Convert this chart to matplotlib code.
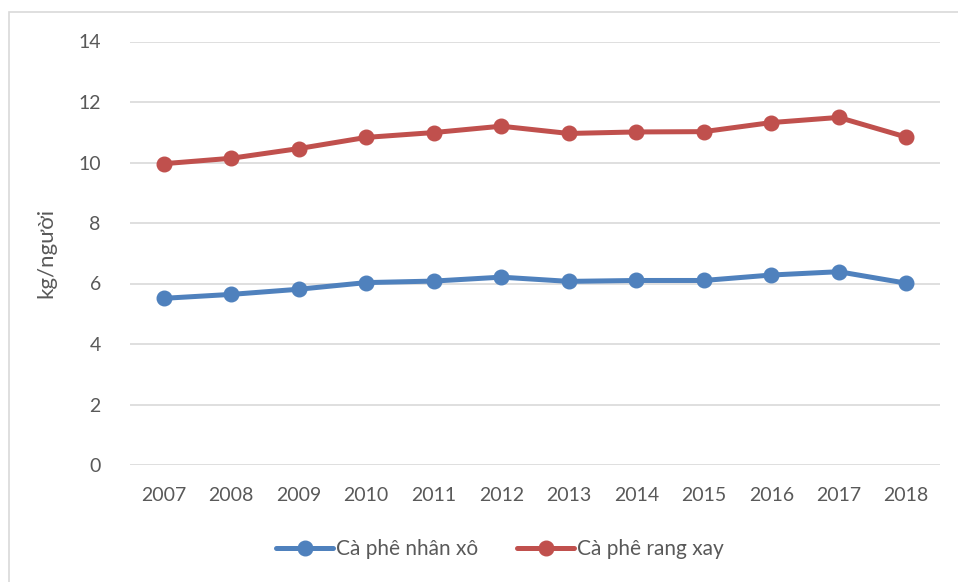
import matplotlib.pyplot as plt
from matplotlib.patches import Rectangle

years = ['2007', '2008', '2009', '2010', '2011', '2012',
         '2013', '2014', '2015', '2016', '2017', '2018']
nhan_xo = [5.51, 5.64, 5.81, 6.03, 6.08, 6.21, 6.07, 6.10, 6.10, 6.28, 6.39, 6.01]
rang_xay = [9.96, 10.14, 10.46, 10.83, 10.99, 11.20, 10.96, 11.01, 11.02, 11.32, 11.49, 10.84]
yticks = [0, 2, 4, 6, 8, 10, 12, 14]

plt.rcParams['font.family'] = ['Lato', 'DejaVu Sans']
text_color = '#595959'

fig = plt.figure(figsize=(9.58, 5.82), dpi=100)
ax = fig.add_axes([130 / 958, 1 - 465 / 582, 810 / 958, (465 - 41.5) / 582])

# partial border of the chart area (left and top edges only visible)
fig.patches.append(Rectangle((9 / 958, -0.1), 1.2, 1 - 12 / 582 + 0.1,
                             transform=fig.transFigure, fill=False,
                             edgecolor='#d9d9d9', linewidth=1.2))

x = range(len(years))
ax.plot(x, nhan_xo, color='#4F81BD', linewidth=3.6, marker='o', markersize=10.5,
        label='Cà phê nhân xô', solid_capstyle='round')
ax.plot(x, rang_xay, color='#C0504D', linewidth=3.6, marker='o', markersize=10.5,
        label='Cà phê rang xay', solid_capstyle='round')

ax.set_xlim(-0.5, len(years) - 0.5)
ax.set_ylim(0, 14)
ax.set_yticks(yticks)
ax.set_xticks(list(x))
ax.set_xticklabels(years)
ax.grid(axis='y', color='#d9d9d9', linewidth=1.2)
ax.set_axisbelow(True)
for s in ax.spines.values():
    s.set_visible(False)
ax.tick_params(length=0, labelsize=14, labelcolor=text_color)
ax.tick_params(axis='y', pad=21)
ax.tick_params(axis='x', pad=16)
ax.set_ylabel('kg/người', fontsize=16, color=text_color, labelpad=16)

fig.legend(*ax.get_legend_handles_labels(), loc='center',
           bbox_to_anchor=(500 / 958, 1 - 549 / 582), ncol=2, frameon=False,
           fontsize=15, labelcolor=text_color, handlelength=2.7, columnspacing=1.9,
           handletextpad=0.15)

fig.savefig('out.png', dpi=100)
